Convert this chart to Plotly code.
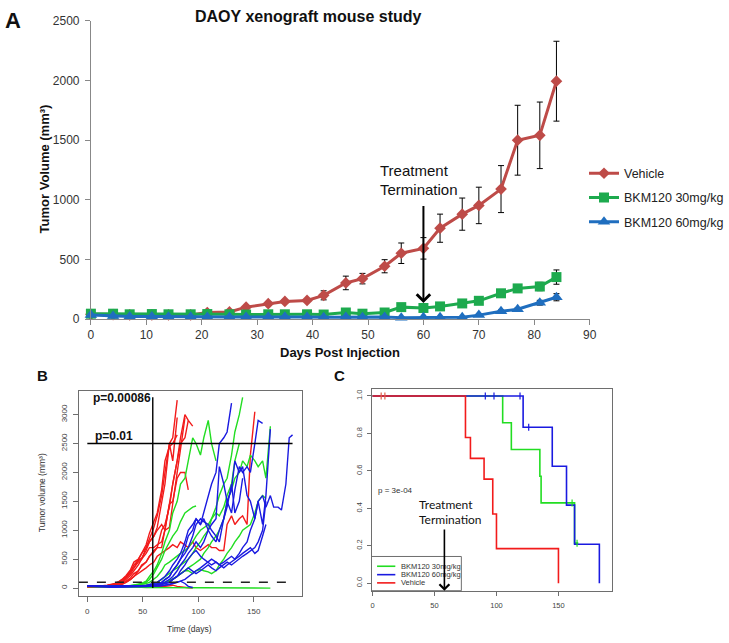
import plotly.graph_objects as go

W, H = 729, 643
def px(x): return x / W
def py(y): return 1 - y / H

# ---------------- Panel A data ----------------
days_a = [0, 4, 7, 11, 14, 18, 21, 25, 28, 32, 35, 39, 42, 46, 49, 53, 56, 60, 63, 67, 70, 74, 77, 81, 84]
vehicle = [40, 38, 35, 35, 35, 35, 55, 60, 100, 129, 148, 156, 199, 303, 339, 443, 552, 593, 762, 880, 953, 1090, 1500, 1541, 1995]
vehicle_err = [8, 8, 8, 8, 8, 8, 8, 10, 12, 15, 15, 15, 38, 57, 44, 55, 86, 90, 118, 135, 153, 197, 293, 279, 335]
bkm30 = [45, 45, 40, 42, 40, 40, 42, 40, 38, 40, 40, 40, 38, 55, 45, 55, 100, 93, 106, 131, 153, 216, 257, 273, 352]
bkm30_err = [5, 5, 5, 5, 5, 5, 5, 5, 5, 5, 5, 5, 5, 8, 6, 8, 10, 12, 12, 15, 15, 20, 25, 35, 60]
bkm60 = [35, 25, 22, 22, 20, 20, 18, 18, 18, 20, 20, 18, 15, 18, 15, 18, 12, 15, 15, 16, 33, 66, 82, 137, 183]
bkm60_err = [4, 4, 4, 4, 4, 4, 4, 4, 4, 4, 4, 4, 4, 4, 4, 4, 4, 5, 5, 5, 8, 10, 12, 20, 30]

# ---------------- Panel B data ----------------
grid_b = [0, 4, 7, 11, 14, 18, 21, 25, 28, 32, 35, 39, 42, 46, 49, 53, 56, 60, 63, 67, 70, 74, 77, 81,
          84, 88, 91, 95, 98, 102, 105, 109, 112, 116, 119, 123, 126, 130, 133, 137, 140, 144, 147, 151,
          154, 158, 161, 165, 168, 172, 175, 179, 182, 185]

red_1 = [30, 30, 35, 35, 40, 45, 55, 70, 100, 150, 200, 300, 350, 450, 500, 700, 850, 1050, 1250, 1600, 2000, 2500, 2600, 3250]
red_2 = [30, 30, 30, 35, 40, 50, 60, 80, 110, 160, 220, 320, 450, 500, 600, 750, 950, 1150, 1300, 1700, 2200, 2450, 2500, 2650]
red_3 = [25, 25, 30, 30, 35, 40, 50, 60, 90, 120, 190, 280, 400, 480, 520, 650, 800, 900, 1050, 1500, 1800, 2500, 2200, 2950]
red_4 = [30, 30, 30, 35, 35, 40, 45, 60, 80, 100, 150, 220, 300, 400, 500, 600, 700, 700, 750, 800, 1000, 1500, 1800, 2200, 2600, 3000, 2900]
red_5 = [20, 20, 25, 25, 30, 35, 40, 45, 60, 80, 100, 150, 200, 300, 400, 450, 550, 650, 700, 1000, 1100, 1400, 1800, 2200, 2500, 2600, 2900, 2800]
red_6 = [25, 25, 30, 30, 30, 35, 40, 50, 70, 90, 120, 180, 250, 300, 380, 450, 550, 620, 700, 700, 1000, 1450, 1500, 1900, 2000, 2000, 1700]
red_7 = [20, 20, 25, 25, 30, 30, 35, 40, 50, 70, 100, 150, 200, 250, 300, 350, 400, 450, 550, 600, 650, 700, 750, 700,
         800, 750, 700, 800, 700, 650, 700, 750, 700, 700, 650, 650, 1100, 1250, 1100, 1200, 1250, 1100, 2300, 3050]
red_8 = [20, 20, 25, 25, 20, 25, 20, 25, 30, 30, 20, 25, 30, 30, 25, 20, 30, 30, 25, 20, 30, 40, 50, 30, 20, 10, 5, 0]
red_9 = [30, 30, 30, 30, 35, 40, 50, 70, 100, 130, 180, 250, 350, 500, 600, 700, 800, 900, 1000, 1100, 1000, 1050, 1500, 2000, 2400, 2950]

green_1 = [30, 30, 30, 25, 25, 25, 30, 30, 30, 30, 35, 40, 50, 60, 80, 100, 150, 250, 350, 500, 650, 800, 900, 1000, 1150, 1300, 1350, 1400, 1420]
green_2 = [30, 30, 25, 25, 25, 20, 25, 25, 30, 30, 35, 40, 45, 60, 80, 120, 200, 300, 400, 600, 800, 1000, 1300, 1500, 1800, 1900, 2200, 2600, 2500, 2300, 2600, 2900, 2500, 2200]
green_3 = [30, 25, 25, 25, 20, 20, 25, 25, 30, 30, 30, 30, 35, 40, 40, 50, 60, 80, 100, 150, 200, 250, 300, 350, 400, 450, 500, 600, 700, 800,
           900, 1000, 1200, 1400, 1600, 1800, 1900, 2300, 2700, 3000, 3300]
green_4 = [30, 30, 25, 25, 25, 25, 25, 30, 30, 30, 30, 30, 30, 35, 35, 40, 45, 50, 60, 80, 100, 130, 160, 200, 250, 300, 350, 400, 450, 500,
           600, 700, 800, 900, 1000, 1200, 1500, 1700, 1900, 2000, 2200, 2100, 2300, 2200, 2100, 2200, 1900, 2800]
green_5 = [25, 25, 20, 20, 20, 20, 20, 20, 20, 20, 20, 15, 15, 15, 15, 10, 10, 10, 10, 10, 10, 10, 5, 5, 5, 0, 0, 0,
           0, 0, 0, 0, 0, 0, 0, 0, 0, 0, 0, 0, 0, 0, 0, 0, 0, 0, 0, 0]
green_6 = [30, 30, 30, 25, 25, 25, 25, 30, 30, 30, 30, 30, 30, 30, 35, 35, 40, 50, 60, 80, 100, 120, 150, 200, 250, 300, 300, 250, 300, 320,
           300, 280, 250, 300, 400, 500, 600, 700, 800, 900, 1000, 1050, 1100, 1300, 1500, 1600, 1550]
green_7 = [30, 30, 30, 30, 25, 25, 25, 30, 30, 30, 30, 35, 40, 50, 60, 80, 100, 150, 200, 300, 400, 450, 500, 550, 600, 650, 700, 800, 900, 1000,
           1050, 1100, 1200, 1300, 1250, 1400, 1600, 1800, 2200, 2500]

blue_1 = [40, 35, 35, 30, 30, 30, 30, 30, 30, 30, 30, 30, 35, 35, 40, 50, 60, 80, 100, 150, 200, 300, 400, 500, 600, 800, 1000, 1100, 1200, 1100,
          1300, 1600, 1800, 2000, 2500, 2600, 2700, 3200]
blue_2 = [40, 35, 30, 30, 30, 30, 30, 30, 30, 30, 30, 30, 30, 35, 35, 40, 45, 50, 60, 80, 100, 150, 200, 300, 400, 500, 600, 700, 800, 700,
          800, 1000, 1100, 1200, 2100, 1800, 1500, 1300, 1700, 2100, 2000, 2100, 2000, 2500, 2900, 2850]
blue_3 = [40, 35, 35, 30, 30, 30, 30, 30, 30, 30, 30, 30, 30, 30, 30, 30, 35, 35, 40, 45, 50, 60, 80, 100, 120, 150, 200, 250, 300, 350,
          400, 450, 500, 450, 400, 450, 500, 550, 500, 600, 700, 800, 1000, 1200, 1500, 1600, 1400, 1600, 1400, 1400, 1350, 1800, 2600, 2650]
blue_4 = [35, 30, 30, 30, 30, 30, 30, 30, 30, 30, 30, 30, 30, 30, 30, 35, 40, 50, 70, 100, 150, 200, 300, 400, 500, 700, 900, 1000, 1200, 1100,
          1200, 1000, 900, 800, 1000, 1200, 1500, 1700, 2200, 2000, 2100, 1600, 1500, 1200, 1500, 1100, 1600, 2750]
blue_5 = [35, 30, 30, 30, 30, 30, 25, 25, 25, 25, 30, 30, 30, 30, 35, 35, 40, 45, 50, 60, 80, 100, 150, 200, 300, 400, 500, 600, 650, 550,
          500, 450, 400, 450, 400, 350, 400, 450, 500, 550, 600, 650, 700, 600, 650, 900, 1100]
blue_6 = [30, 25, 25, 20, 20, 20, 15, 15, 15, 15, 15, 15, 20, 20, 20, 25, 30, 30, 35, 40, 50, 60, 80, 100, 120, 80, 30, 10]
blue_7 = [35, 30, 30, 30, 30, 30, 30, 30, 30, 30, 30, 30, 30, 35, 35, 40, 45, 50, 60, 70, 80, 100, 150, 200, 250, 300, 350, 300, 250, 300,
          350, 400, 350, 300, 350, 400, 450, 400, 450, 500, 550, 600, 650, 700, 800, 1000, 1500]
blue_8 = [30, 30, 30, 30, 25, 25, 25, 25, 25, 25, 30, 30, 30, 30, 30, 35, 40, 50, 70, 100, 150, 200, 300, 400, 500, 600, 700, 900, 1100, 1200,
          1150, 1100, 1000, 900, 800, 1200, 1400, 1800, 1300, 1500, 1900]

red_curves = [red_1, red_2, red_3, red_4, red_5, red_6, red_7, red_8, red_9]
green_curves = [green_1, green_2, green_3, green_4, green_5, green_6, green_7]
blue_curves = [blue_1, blue_2, blue_3, blue_4, blue_5, blue_6, blue_7, blue_8]

endpoint_volume = 2500
endpoint_days = [0, 185]
baseline_volume = 100
baseline_days = [-7.6, 185]
termination_day = 59
termination_vol = [0, 3300]

# ---------------- Panel C data ----------------
km_vehicle_t = [0, 75, 79, 90, 97, 100, 150]
km_vehicle_s = [1.0, 0.778, 0.667, 0.556, 0.37, 0.185, 0.0]
km_30_t = [0, 105, 112, 135, 136, 163, 166]
km_30_s = [1.0, 0.857, 0.714, 0.571, 0.429, 0.214, 0.214]
km_60_t = [0, 121.5, 145, 156.5, 163, 183]
km_60_s = [1.0, 0.833, 0.625, 0.417, 0.208, 0.0]
cens_vehicle_t = [7, 10]
cens_vehicle_s = [1.0, 1.0]
cens_60_t = [91, 98, 119, 126]
cens_60_s = [1.0, 1.0, 1.0, 0.833]
cens_30_t = [161, 165]
cens_30_s = [0.429, 0.214]

# ---------------- colours ----------------
RED_A = '#BE4B48'
GREEN_A = '#1DAA4E'
BLUE_A = '#1F6EBF'
RED_R = '#F21B1B'
GREEN_R = '#22DD22'
BLUE_R = '#1A1AE0'
AXIS_GRAY = '#888888'
BOX_GRAY = '#6E6E6E'

fig = go.Figure()

# Panel A traces
for name, vals, err, col, sym, size, grp in [
    ('Vehicle', vehicle, vehicle_err, RED_A, 'diamond', 9, 'g1'),
    ('BKM120 30mg/kg', bkm30, bkm30_err, GREEN_A, 'square', 10, 'g2'),
    ('BKM120 60mg/kg', bkm60, bkm60_err, BLUE_A, 'triangle-up', 11, 'g3'),
]:
    fig.add_trace(go.Scatter(
        x=days_a, y=vals, mode='lines+markers', name=name,
        line=dict(color=col, width=3),
        marker=dict(symbol=sym, size=size, color=col),
        error_y=dict(type='data', array=err, color='black', thickness=1, width=3),
        xaxis='x', yaxis='y', cliponaxis=False, legendgroup=grp,
    ))

# Panel B traces
for curves, col in [(red_curves, RED_R), (green_curves, GREEN_R), (blue_curves, BLUE_R)]:
    for vals in curves:
        fig.add_trace(go.Scatter(
            x=grid_b[:len(vals)], y=vals, mode='lines',
            line=dict(color=col, width=1.4), showlegend=False,
            xaxis='x2', yaxis='y2', hoverinfo='skip'))

fig.add_trace(go.Scatter(x=endpoint_days, y=[endpoint_volume] * 2, mode='lines',
                         line=dict(color='black', width=1.6), showlegend=False, xaxis='x2', yaxis='y2'))
fig.add_trace(go.Scatter(x=baseline_days, y=[baseline_volume] * 2, mode='lines',
                         line=dict(color='#222222', width=1.6, dash='dash'), showlegend=False, xaxis='x2', yaxis='y2'))
fig.add_trace(go.Scatter(x=[termination_day] * 2, y=termination_vol, mode='lines',
                         line=dict(color='black', width=1.4), showlegend=False, xaxis='x2', yaxis='y2'))

# Panel C traces
for t, s, col in [(km_30_t, km_30_s, GREEN_R), (km_60_t, km_60_s, BLUE_R), (km_vehicle_t, km_vehicle_s, RED_R)]:
    fig.add_trace(go.Scatter(x=t, y=s, mode='lines', line=dict(color=col, width=1.6, shape='hv'),
                             showlegend=False, xaxis='x3', yaxis='y3'))
for t, s, col in [(cens_vehicle_t, cens_vehicle_s, '#E0604A'), (cens_60_t, cens_60_s, BLUE_R), (cens_30_t, cens_30_s, GREEN_R)]:
    fig.add_trace(go.Scatter(x=t, y=s, mode='markers',
                             marker=dict(symbol='line-ns', size=5, line=dict(color=col, width=1.2)),
                             showlegend=False, xaxis='x3', yaxis='y3'))

# ---------------- layout ----------------
tickfont_a = dict(family='Liberation Sans', size=12, color='#333333')
tickfont_r = dict(family='Liberation Sans', size=8, color='#444444')

fig.update_layout(
    width=W, height=H, margin=dict(l=0, r=0, t=0, b=0),
    paper_bgcolor='white', plot_bgcolor='white',
    font=dict(family='Liberation Sans', color='#222222'),
    xaxis=dict(domain=[px(90), px(600.7)], range=[0, 90], dtick=10, showgrid=False, zeroline=False,
               showline=True, linecolor=AXIS_GRAY, ticks='outside', ticklen=5, tickcolor=AXIS_GRAY,
               tickfont=tickfont_a, anchor='y'),
    yaxis=dict(domain=[py(319), py(14.3)], range=[0, 2500], dtick=500, showgrid=False, zeroline=False,
               showline=True, linecolor=AXIS_GRAY, ticks='outside', ticklen=5, tickcolor=AXIS_GRAY,
               tickfont=tickfont_a, anchor='x', ticklabelstandoff=3),
    xaxis2=dict(domain=[px(77.7), px(306)], range=[-7.6, 193.4], tickvals=[0, 50, 100, 150], showgrid=False,
                zeroline=False, showline=True, mirror=True, linecolor=BOX_GRAY, ticks='outside', ticklen=5,
                tickcolor=BOX_GRAY, tickfont=tickfont_r, anchor='y2', ticklabelstandoff=3),
    yaxis2=dict(domain=[py(601.7), py(392.3)], range=[-130, 3413], tickvals=[0, 500, 1000, 1500, 2000, 2500, 3000],
                showgrid=False, zeroline=False, showline=True, mirror=True, linecolor=BOX_GRAY, ticks='outside',
                ticklen=5, tickcolor=BOX_GRAY, tickfont=tickfont_r, tickangle=-90, anchor='x2', ticklabelstandoff=3),
    xaxis3=dict(domain=[px(377.3), px(623.3)], range=[-0.8, 193], tickvals=[0, 50, 100, 150], showgrid=False,
                zeroline=False, showline=True, mirror=True, linecolor=BOX_GRAY, ticks='outside', ticklen=4,
                tickcolor=BOX_GRAY, tickfont=dict(family='Liberation Sans', size=7.5, color='#444444'),
                anchor='y3', ticklabelstandoff=3),
    yaxis3=dict(domain=[py(596.7), py(390)], range=[-0.04, 1.04], tickvals=[0, 0.2, 0.4, 0.6, 0.8, 1.0],
                tickformat='.1f', showgrid=False, zeroline=False, showline=True, mirror=True, linecolor=BOX_GRAY,
                ticks='outside', ticklen=4, tickcolor=BOX_GRAY,
                tickfont=dict(family='Liberation Sans', size=7.5, color='#444444'), tickangle=-90,
                anchor='x3', ticklabelstandoff=2),
    legend=dict(x=px(595), y=py(155), xanchor='left', yanchor='top', bgcolor='rgba(0,0,0,0)',
                font=dict(family='Liberation Sans', size=12.5, color='#222222'), tracegroupgap=5,
                itemwidth=30),
    showlegend=True,
)

ann = []
def txt(x, y, s, size, bold=False, family='Liberation Sans', xanchor='center', color='#111111', angle=0):
    ann.append(dict(x=px(x), y=py(y), xref='paper', yref='paper', text=('<b>%s</b>' % s) if bold else s,
                    showarrow=False, xanchor=xanchor, yanchor='middle', textangle=angle,
                    font=dict(family=family, size=size, color=color)))

txt(10, 14, 'A', 22, bold=True)
txt(313, 10, 'DAOY xenograft mouse study', 16, bold=True)
txt(42, 166, 'Tumor Volume (mm³)', 13, bold=True, angle=-90)
txt(345, 353, 'Days Post Injection', 13, bold=True)
txt(384, 167, 'Treatment', 15, xanchor='left')
txt(384, 187, 'Termination', 15, xanchor='left')
txt(40.5, 377, 'B', 15, bold=True)
txt(345, 377, 'C', 15, bold=True)
txt(90, 400, 'p=0.00086', 12, bold=True, xanchor='left')
txt(92, 439, 'p=0.01', 12, bold=True, xanchor='left')
txt(40, 497, 'Tumor volume (mm³)', 8.5, angle=-90, color='#333333')
txt(191, 636, 'Time (days)', 8.5, color='#333333')
txt(382, 494, 'p = 3e-04', 8, xanchor='left', color='#333333')
txt(424, 509, 'Treatment', 12, family='Lato', xanchor='left', color='#111111')
txt(424, 524, 'Termination', 12, family='Lato', xanchor='left', color='#111111')

# legend text for panel C
txt(405, 571.7, 'BKM120 30mg/kg', 7.5, xanchor='left', color='#333333')
txt(405, 580.3, 'BKM120 60mg/kg', 7.5, xanchor='left', color='#333333')
txt(405, 588.7, 'Vehicle', 7.5, xanchor='left', color='#333333')

# arrows
ann.append(dict(x=60, y=134, ax=60, ay=960, xref='x', yref='y', axref='x', ayref='y', showarrow=True,
                arrowhead=4, arrowsize=1.3, arrowwidth=2, arrowcolor='black', text=''))
ann.append(dict(x=58, y=-0.04, ax=58, ay=0.295, xref='x3', yref='y3', axref='x3', ayref='y3', showarrow=True,
                arrowhead=4, arrowsize=1.2, arrowwidth=1.6, arrowcolor='black', text=''))

fig.update_layout(annotations=ann)

shapes = [
    dict(type='rect', xref='paper', yref='paper', x0=px(377.3), x1=px(469.3), y0=py(596.7), y1=py(561.7),
         line=dict(color=BOX_GRAY, width=1), fillcolor='rgba(255,255,255,0)'),
]
for yy, col in [(571.7, GREEN_R), (580.3, BLUE_R), (588.7, RED_R)]:
    shapes.append(dict(type='line', xref='paper', yref='paper', x0=px(383), x1=px(401.7), y0=py(yy), y1=py(yy),
                       line=dict(color=col, width=1.6)))
fig.update_layout(shapes=shapes)

fig.write_html('out.html', config={'displayModeBar': False},
               post_script="document.body.style.margin='0';document.body.style.overflow='hidden';")
